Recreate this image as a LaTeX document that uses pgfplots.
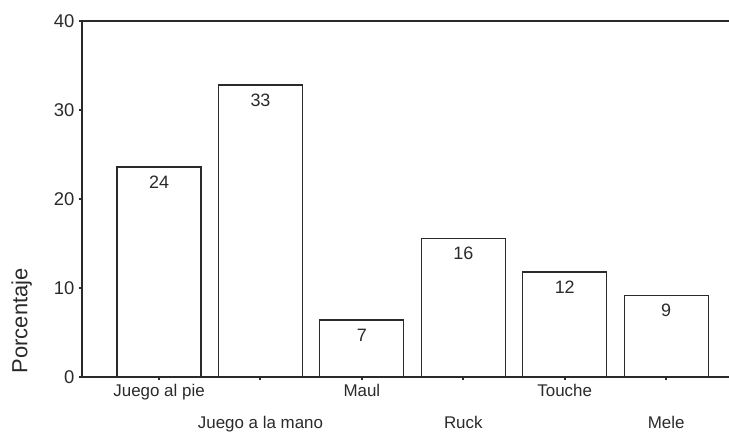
\documentclass[border=0pt]{standalone}
\usepackage{fontspec}
\setmainfont{Liberation Sans}
\usepackage{pgfplots}
\pgfplotsset{compat=1.18}
\definecolor{ink}{HTML}{2A2A2A}
\begin{document}
\begin{tikzpicture}
\useasboundingbox (0,0) rectangle (729bp,434bp);
\begin{axis}[
  at={(82bp,57bp)}, anchor=south west,
  scale only axis, width=647bp, height=356bp,
  xmin=-0.76, xmax=5.62, ymin=0, ymax=40,
  axis x line*=bottom, axis y line*=left,
  axis line style={ink, line width=1.6pt, -},
  xtick={0,2,4},
  xticklabels={Juego al pie, Maul, Touche},
  extra x ticks={1,3,5},
  extra x tick labels={Juego a la mano, Ruck, Mele},
  extra x tick style={xticklabel style={yshift=-32bp}},
  xticklabel style={anchor=north, font=\fontsize{17}{20}\selectfont, text=ink, yshift=-1bp},
  ytick={0,10,20,30,40},
  yticklabel style={font=\fontsize{18.5}{20}\selectfont, text=ink, xshift=-1bp},
  /pgf/number format/assume math mode=true,
  tick align=outside, major tick length=3bp,
  tick style={ink, line width=2pt},
  ylabel={Porcentaje},
  ylabel style={at={(rel axis cs:-0.093,0.158)}, anchor=center, font=\fontsize{22}{24}\selectfont, text=ink},
  clip=false,
]
\addplot[ybar, bar width=84bp, draw=ink, fill=white, line width=1.2pt,
  point meta=explicit symbolic,
  nodes near coords,
  every node near coord/.append style={anchor=north, yshift=-5bp, font=\fontsize{18}{20}\selectfont, text=ink}]
coordinates {(0,23.6)[24] (1,32.8)[33] (2,6.4)[7] (3,15.6)[16] (4,11.8)[12] (5,9.2)[9]};
\draw[ink, line width=1.6pt] (rel axis cs:0,1) -- (rel axis cs:1,1);
\end{axis}
\end{tikzpicture}
\end{document}
